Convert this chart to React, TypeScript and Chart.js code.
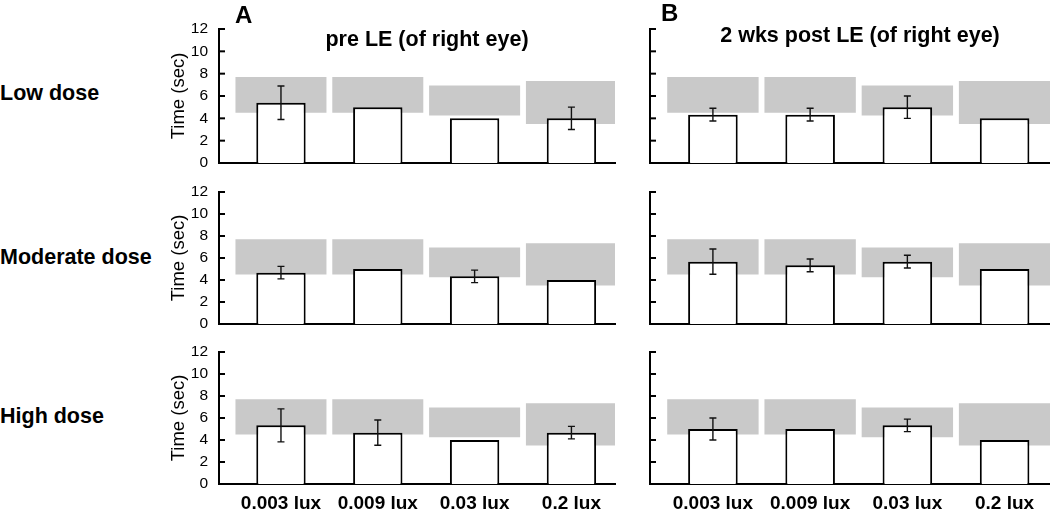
import React, { useEffect, useRef } from 'react';
import { Chart, registerables } from 'chart.js';
Chart.register(...registerables);

const categories = ['0.003 lux', '0.009 lux', '0.03 lux', '0.2 lux'];
const yTicks = [0, 2, 4, 6, 8, 10, 12];
const rowLabels = ['Low dose', 'Moderate dose', 'High dose'];
const normalLow = [4.5, 4.5, 4.25, 3.5];
const normalHigh = [7.7, 7.7, 6.95, 7.35];

const preLowMean = [5.4, 5.0, 4.0, 4.0];
const preLowErr = [1.5, 0, 0, 1.0];
const postLowMean = [4.33, 4.33, 5.0, 4.0];
const postLowErr = [0.57, 0.57, 1.0, 0];
const preModMean = [4.67, 5.0, 4.33, 4.0];
const preModErr = [0.57, 0, 0.57, 0];
const postModMean = [5.67, 5.33, 5.67, 5.0];
const postModErr = [1.15, 0.58, 0.58, 0];
const preHighMean = [5.33, 4.67, 4.0, 4.67];
const preHighErr = [1.5, 1.15, 0, 0.57];
const postHighMean = [5.0, 5.0, 5.33, 4.0];
const postHighErr = [1.0, 0, 0.57, 0];

const FONT = "'Liberation Sans', Arial, Helvetica, sans-serif";

type PanelProps = {
  left: number; top: number; width: number; height: number;
  padTop: number; padBottom: number; padRight: number;
  axisWidth: number; xHeight: number;
  xMin: number; xMax: number;
  means: number[]; errs: number[];
  showY: boolean; showX: boolean;
};

function Panel(p: PanelProps) {
  const ref = useRef<HTMLCanvasElement>(null);
  useEffect(() => {
    const errPlugin = {
      id: 'errBars',
      afterDatasetsDraw(chart: any) {
        const { ctx, scales } = chart;
        const x = scales.x, y = scales.y;
        ctx.save();
        ctx.strokeStyle = '#111';
        ctx.lineWidth = 1.4;
        p.errs.forEach((e, i) => {
          if (!e) return;
          const px = x.getPixelForValue(i);
          const t = y.getPixelForValue(p.means[i] + e);
          const b = y.getPixelForValue(p.means[i] - e);
          ctx.beginPath();
          ctx.moveTo(px, t); ctx.lineTo(px, b);
          ctx.moveTo(px - 3.5, t); ctx.lineTo(px + 3.5, t);
          ctx.moveTo(px - 3.5, b); ctx.lineTo(px + 3.5, b);
          ctx.stroke();
        });
        ctx.restore();
      },
      afterDraw(chart: any) {
        const { ctx, scales, chartArea } = chart;
        const y = scales.y;
        ctx.save();
        ctx.strokeStyle = '#000';
        ctx.lineWidth = 2;
        yTicks.forEach((v) => {
          if (v === 0) return;
          const py = y.getPixelForValue(v);
          ctx.beginPath();
          ctx.moveTo(chartArea.left, py);
          ctx.lineTo(chartArea.left + 6, py);
          ctx.stroke();
        });
        ctx.restore();
      },
    };
    const chart = new Chart(ref.current as HTMLCanvasElement, {
      type: 'bar',
      data: {
        datasets: [
          {
            data: p.means.map((v, i) => ({ x: i, y: v })),
            backgroundColor: '#ffffff',
            borderColor: '#000000',
            borderWidth: 2,
            grouped: false,
            categoryPercentage: 1,
            barPercentage: 0.51,
            order: 1,
          } as any,
          {
            data: normalLow.map((v, i) => ({ x: i, y: [v, normalHigh[i]] })),
            backgroundColor: '#c9c9c9',
            borderWidth: 0,
            grouped: false,
            categoryPercentage: 1,
            barPercentage: 0.94,
            order: 2,
          } as any,
        ],
      },
      options: {
        animation: false,
        responsive: false,
        maintainAspectRatio: false,
        layout: { padding: { top: p.padTop, bottom: p.padBottom, right: p.padRight, left: 0 } },
        plugins: { legend: { display: false }, tooltip: { enabled: false }, title: { display: false } },
        scales: {
          x: {
            type: 'linear',
            min: p.xMin,
            max: p.xMax,
            bounds: 'data',
            offset: false,
            z: 1,
            afterBuildTicks: (s: any) => { s.ticks = categories.map((_, i) => ({ value: i })); },
            afterFit: (s: any) => { s.height = p.xHeight; s.paddingLeft = 0; s.paddingRight = 0; s.paddingTop = 0; s.paddingBottom = 0; },
            grid: { display: false, drawTicks: false, offset: false },
            border: { display: true, color: '#000', width: 2 },
            ticks: {
              display: p.showX,
              autoSkip: false,
              maxRotation: 0,
              padding: 8,
              color: '#000',
              font: { family: FONT, size: 19, weight: 'bold' },
              callback: (v: any) => categories[v as number],
            },
          },
          y: {
            min: 0,
            max: 12,
            z: 1,
            afterBuildTicks: (s: any) => { s.ticks = yTicks.map((v) => ({ value: v })); },
            afterFit: (s: any) => { s.width = p.axisWidth; s.paddingTop = 0; s.paddingBottom = 0; s.paddingLeft = 0; s.paddingRight = 0; },
            grid: { display: false, drawTicks: false },
            border: { display: true, color: '#000', width: 2 },
            ticks: {
              display: p.showY,
              autoSkip: false,
              padding: 11,
              color: '#000',
              font: { family: FONT, size: 15.5 },
            },
            title: {
              display: p.showY,
              text: 'Time (sec)',
              color: '#000',
              font: { family: FONT, size: 18.5 },
              padding: { top: 8, bottom: 0 },
            },
          },
        },
      } as any,
      plugins: [errPlugin],
    });
    return () => chart.destroy();
  }, []);
  return (
    <canvas
      ref={ref}
      width={p.width}
      height={p.height}
      style={{ position: 'absolute', left: p.left, top: p.top, width: p.width, height: p.height }}
    />
  );
}

const rows = [
  { top: 15, height: 152, padTop: 14, padBottom: 4, xHeight: 0, showX: false },
  { top: 178, height: 150, padTop: 14, padBottom: 4, xHeight: 0, showX: false },
  { top: 338, height: 174, padTop: 14, padBottom: 0, xHeight: 28, showX: true },
];
const preMeans = [preLowMean, preModMean, preHighMean];
const preErrs = [preLowErr, preModErr, preHighErr];
const postMeans = [postLowMean, postModMean, postHighMean];
const postErrs = [postLowErr, postModErr, postHighErr];
const rowLabelTops = [82.5, 246.5, 405.5];

export default function App() {
  const textBase: React.CSSProperties = {
    position: 'absolute',
    fontFamily: FONT,
    fontWeight: 'bold',
    color: '#000',
    whiteSpace: 'nowrap',
  };
  return (
    <div style={{ position: 'absolute', left: 0, top: 0, width: 1050, height: 512, background: '#fff', overflow: 'hidden' }}>
      {rows.map((r, i) => (
        <React.Fragment key={i}>
          <Panel
            left={160} top={r.top} width={465} height={r.height}
            padTop={r.padTop} padBottom={r.padBottom} padRight={10}
            axisWidth={59} xHeight={r.xHeight}
            xMin={-0.64} xMax={3.45}
            means={preMeans[i]} errs={preErrs[i]}
            showY={true} showX={r.showX}
          />
          <Panel
            left={610} top={r.top} width={440} height={r.height}
            padTop={r.padTop} padBottom={r.padBottom} padRight={0}
            axisWidth={40} xHeight={r.xHeight}
            xMin={-0.647} xMax={3.467}
            means={postMeans[i]} errs={postErrs[i]}
            showY={false} showX={r.showX}
          />
          <div style={{ ...textBase, left: 0, top: rowLabelTops[i], fontSize: 21.5, lineHeight: '21.5px' }}>
            {rowLabels[i]}
          </div>
        </React.Fragment>
      ))}
      <div style={{ ...textBase, left: 235, top: 3, fontSize: 24, lineHeight: '24px' }}>A</div>
      <div style={{ ...textBase, left: 661, top: 1, fontSize: 24, lineHeight: '24px' }}>B</div>
      <div style={{ ...textBase, left: 427, top: 29, fontSize: 21.5, lineHeight: '21.5px', transform: 'translateX(-50%)' }}>
        pre LE (of right eye)
      </div>
      <div style={{ ...textBase, left: 860, top: 25, fontSize: 21.5, lineHeight: '21.5px', transform: 'translateX(-50%)' }}>
        2 wks post LE (of right eye)
      </div>
    </div>
  );
}
